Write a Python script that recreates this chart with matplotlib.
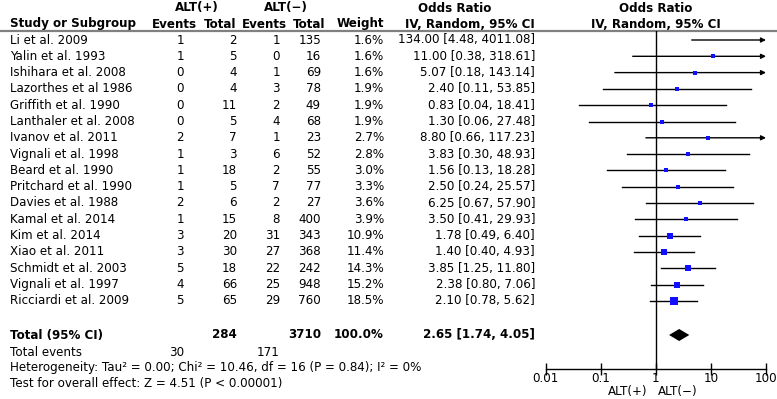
import matplotlib
matplotlib.use("Agg")
import matplotlib.pyplot as plt
import numpy as np

studies = ["Li et al. 2009", "Yalin et al. 1993", "Ishihara et al. 2008", "Lazorthes et al 1986",
           "Griffith et al. 1990", "Lanthaler et al. 2008", "Ivanov et al. 2011", "Vignali et al. 1998",
           "Beard et al. 1990", "Pritchard et al. 1990", "Davies et al. 1988", "Kamal et al. 2014",
           "Kim et al. 2014", "Xiao et al. 2011", "Schmidt et al. 2003", "Vignali et al. 1997",
           "Ricciardi et al. 2009"]
ev_pos = [1, 1, 0, 0, 0, 0, 2, 1, 1, 1, 2, 1, 3, 3, 5, 4, 5]
tot_pos = [2, 5, 4, 4, 11, 5, 7, 3, 18, 5, 6, 15, 20, 30, 18, 66, 65]
ev_neg = [1, 0, 1, 3, 2, 4, 1, 6, 2, 7, 2, 8, 31, 27, 22, 25, 29]
tot_neg = [135, 16, 69, 78, 49, 68, 23, 52, 55, 77, 27, 400, 343, 368, 242, 948, 760]
weight = [1.6, 1.6, 1.6, 1.9, 1.9, 1.9, 2.7, 2.8, 3.0, 3.3, 3.6, 3.9, 10.9, 11.4, 14.3, 15.2, 18.5]
odds = [134.00, 11.00, 5.07, 2.40, 0.83, 1.30, 8.80, 3.83, 1.56, 2.50, 6.25, 3.50, 1.78, 1.40, 3.85, 2.38, 2.10]
ci_lo = [4.48, 0.38, 0.18, 0.11, 0.04, 0.06, 0.66, 0.30, 0.13, 0.24, 0.67, 0.41, 0.49, 0.40, 1.25, 0.80, 0.78]
ci_hi = [4011.08, 318.61, 143.14, 53.85, 18.41, 27.48, 117.23, 48.93, 18.28, 25.57, 57.90, 29.93, 6.40, 4.93, 11.80, 7.06, 5.62]

total_pos = 284
total_neg = 3710
total_ev_pos = 30
total_ev_neg = 171
total_weight = "100.0%"
pooled = (2.65, 1.74, 4.05)
x_ticks = [0.01, 0.1, 1, 10, 100]
x_ticklabels = ["0.01", "0.1", "1", "10", "100"]

W, H = 777, 399
fig = plt.figure(figsize=(W / 100, H / 100), dpi=100)
fig.patch.set_facecolor("white")
plt.rcParams['font.family'] = ['DejaVu Sans']
FS = 8.6

ax0 = fig.add_axes([0, 0, 1, 1])
ax0.set_xlim(0, W)
ax0.set_ylim(H, 0)
ax0.axis("off")

def txt(x, y, s, ha="left", bold=False):
    ax0.text(x, y, s, ha=ha, va="center", fontsize=FS,
             fontweight="bold" if bold else "normal", color="black")

# headers
r1, r2 = 8, 24
txt(196.5, r1, "ALT(+)", ha="center", bold=True)
txt(286, r1, "ALT(−)", ha="center", bold=True)
txt(455, r1, "Odds Ratio", ha="center", bold=True)
txt(656, r1, "Odds Ratio", ha="center", bold=True)
txt(10, r2, "Study or Subgroup", bold=True)
txt(197, r2, "Events", ha="right", bold=True)
txt(236, r2, "Total", ha="right", bold=True)
txt(287, r2, "Events", ha="right", bold=True)
txt(325, r2, "Total", ha="right", bold=True)
txt(384, r2, "Weight", ha="right", bold=True)
txt(535, r2, "IV, Random, 95% CI", ha="right", bold=True)
txt(656, r2, "IV, Random, 95% CI", ha="center", bold=True)
ax0.plot([0, W], [31, 31], color="#808080", lw=1.6, solid_capstyle="butt")

y0, dy = 40, 16.3
ys = [y0 + i * dy for i in range(len(studies))]
for i, y in enumerate(ys):
    txt(10, y, studies[i])
    txt(184, y, str(ev_pos[i]), ha="right")
    txt(237, y, str(tot_pos[i]), ha="right")
    txt(280, y, str(ev_neg[i]), ha="right")
    txt(321, y, str(tot_neg[i]), ha="right")
    txt(384, y, f"{weight[i]:.1f}%", ha="right")
    txt(535, y, f"{odds[i]:.2f} [{ci_lo[i]:.2f}, {ci_hi[i]:.2f}]", ha="right")

yt = 335
txt(10, yt, "Total (95% CI)", bold=True)
txt(237, yt, str(total_pos), ha="right", bold=True)
txt(321, yt, str(total_neg), ha="right", bold=True)
txt(384, yt, total_weight, ha="right", bold=True)
txt(535, yt, f"{pooled[0]:.2f} [{pooled[1]:.2f}, {pooled[2]:.2f}]", ha="right", bold=True)
txt(10, 352, "Total events")
txt(184, 352, str(total_ev_pos), ha="right")
txt(280, 352, str(total_ev_neg), ha="right")
txt(10, 368, "Heterogeneity: Tau² = 0.00; Chi² = 10.46, df = 16 (P = 0.84); I² = 0%")
txt(10, 384, "Test for overall effect: Z = 4.51 (P < 0.00001)")

# forest axes
xl, xr = 545.7, 766.0
ytop, ybot = 31, 369
ax = fig.add_axes([xl / W, 1 - ybot / H, (xr - xl) / W, (ybot - ytop) / H])
ax.set_xscale("log")
ax.set_xlim(0.01, 100)
ax.set_ylim(ybot, ytop)
ax.patch.set_alpha(0)
for s in ["top", "right", "left"]:
    ax.spines[s].set_visible(False)
ax.spines["bottom"].set_linewidth(1.0)
ax.set_yticks([])
ax.set_xticks(x_ticks)
ax.set_xticklabels(x_ticklabels, fontsize=FS)
ax.xaxis.set_minor_locator(matplotlib.ticker.NullLocator())
ax.tick_params(axis="x", direction="inout", length=9, width=1.0, pad=-2)
ax.axvline(1, color="black", lw=1.0)

for i, y in enumerate(ys):
    lo = max(ci_lo[i], 0.01)
    if ci_hi[i] > 100:
        ax.annotate("", xy=(100, y), xytext=(lo, y),
                    arrowprops=dict(arrowstyle="-|>", color="black", lw=1.0,
                                    mutation_scale=7, shrinkA=0, shrinkB=0))
    else:
        ax.plot([lo, ci_hi[i]], [y, y], color="black", lw=1.0)
    if 0.01 <= odds[i] <= 100:
        side_px = max(3.2, 1.7 * np.sqrt(weight[i]))
        ax.plot(odds[i], y, marker="s", color="#1010ff", markersize=side_px * 0.72,
                markeredgewidth=0, linestyle="none", zorder=3)

# diamond
est, lo, hi = pooled
dh = 6
ax.fill([lo, est, hi, est], [yt, yt - dh, yt, yt + dh], color="black", lw=0)

txt(647, 392, "ALT(+)", ha="right")
txt(658, 392, "ALT(−)", ha="left")

fig.savefig("out.png", dpi=100, facecolor="white")
